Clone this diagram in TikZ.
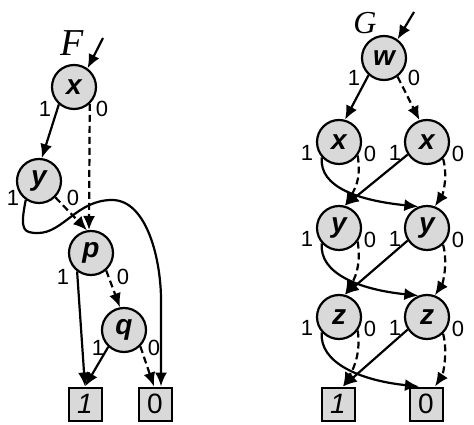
\documentclass[tikz,border=0pt]{standalone}
\usepackage{fontspec}
\setmainfont{Liberation Serif}
\setsansfont{Liberation Sans}
\usepackage{xcolor}
\usetikzlibrary{calc,arrows.meta}

\definecolor{bddgray}{gray}{0.85}

\tikzset{
  var/.style={circle, draw, line width=2.2pt, fill=bddgray, minimum size=44pt,
    inner sep=0pt, font=\sffamily\bfseries\itshape\fontsize{28}{28}\selectfont},
  leaf/.style={rectangle, draw, line width=2pt, fill=bddgray, minimum size=33pt,
    inner sep=0pt, font=\sffamily\fontsize{28}{28}\selectfont},
  hi/.style={line width=2.2pt, -{Latex[length=14pt,width=12pt]}},
  lo/.style={hi, dash pattern=on 7pt off 4pt},
  lbl/.style={font=\sffamily\fontsize{22}{22}\selectfont, inner sep=0pt},
  fname/.style={inner sep=0pt}
}

\begin{document}
\begin{tikzpicture}[x=1pt,y=1pt]

    \useasboundingbox (0,0) rectangle (474,-425);

    % --- Diagram F ---

    % Nodes
    \node[var] (xF) at (74,-87) {x};
    \node[var] (yF) at (39,-181) {y};
    \node[var] (pF) at (91,-253) {p};
    \node[var] (qF) at (124,-330) {q};
    \node[leaf] (oneF) at (85,-404) {\itshape 1};
    \node[leaf] (zeroF) at (155,-404) {0};

    % Name and entry
    \node[fname, font=\itshape\fontsize{38}{38}\selectfont] (labF) at (72,-43) {F};
    \coordinate (inF) at (103,-38);
    \draw[hi] (inF) -- (xF.54);

    % Waypoints of the long 1-edge of y
    \coordinate (loopF) at (38,-233);
    \coordinate (archF) at (112,-200);
    \coordinate (dropF) at (161,-300);

    % Edges
    \draw[hi] (xF.229) -- (yF.83);
    \draw[lo] (xF.-47) -- (pF.95);
    \draw[lo] (yF.-45) -- (pF.100);
    \draw[hi] (yF.235) .. controls +(-6,-30) and +(-15,0) .. (loopF)
      .. controls +(25,0) and +(-35,0) .. (archF)
      .. controls +(35,0) and +(0,40) .. (dropF)
      -- ([xshift=6pt]zeroF.north);
    \draw[hi] (pF.233) -- (oneF.north);
    \draw[lo] (pF.-49) -- (qF.100);
    \draw[hi] (qF.227) -- (oneF.north);
    \draw[lo] (qF.-45) -- ([xshift=-1pt]zeroF.north);

    % Edge labels
    \node[lbl] (xF1) at ($(xF)+(-29,-22)$) {1};
    \node[lbl] (xF0) at ($(xF)+(28,-22)$) {0};
    \node[lbl] (yF1) at ($(yF)+(-26,-17)$) {1};
    \node[lbl] (yF0) at ($(yF)+(34,-17)$) {0};
    \node[lbl] (pF1) at ($(pF)+(-28,-24)$) {1};
    \node[lbl] (pF0) at ($(pF)+(32,-24)$) {0};
    \node[lbl] (qF1) at ($(qF)+(-26,-18)$) {1};
    \node[lbl] (qF0) at ($(qF)+(30,-18)$) {0};

    % --- Diagram G ---

    % Nodes
    \node[var] (w) at (384,-58) {w};
    \node[var] (xL) at (339,-142) {x};
    \node[var] (xR) at (427,-142) {x};
    \node[var] (yL) at (339,-228) {y};
    \node[var] (yR) at (427,-228) {y};
    \node[var] (zL) at (339,-317) {z};
    \node[var] (zR) at (427,-317) {z};
    \node[leaf] (oneG) at (338,-404) {\itshape 1};
    \node[leaf] (zeroG) at (426,-404) {0};

    % Name and entry
    \node[fname, font=\itshape\fontsize{32}{32}\selectfont] (labG) at (365,-23) {G};
    \coordinate (inG) at (414,-12);
    \draw[hi] (inG) -- (w.54);

    % Edges from w
    \draw[hi] (w.228) -- (xL.75);
    \draw[lo] (w.-54) -- (xR.109);

    % Edges x -> y
    \draw[hi] (xL.222) .. controls +(-3,-30) and +(-59,6) .. (yR.112);
    \draw[lo] (xL.-36) .. controls +(3,-20) and +(12,20) .. (yL.75);
    \draw[hi] (xR.213) -- (yL.75);
    \draw[lo] (xR.-46) .. controls +(5,-18) and +(8,12) .. (yR.70);

    % Edges y -> z
    \draw[hi] (yL.222) .. controls +(-3,-30) and +(-59,6) .. (zR.112);
    \draw[lo] (yL.-36) .. controls +(3,-20) and +(12,20) .. (zL.75);
    \draw[hi] (yR.213) -- (zL.75);
    \draw[lo] (yR.-46) .. controls +(5,-18) and +(8,12) .. (zR.70);

    % Edges z -> leaves
    \draw[hi] (zL.222) .. controls +(-3,-30) and +(-59,6) .. ([xshift=-7pt]zeroG.north);
    \draw[lo] (zL.-36) .. controls +(3,-20) and +(12,20) .. ([xshift=5pt]oneG.north);
    \draw[hi] (zR.213) -- ([xshift=5pt]oneG.north);
    \draw[lo] (zR.-46) .. controls +(5,-18) and +(8,12) .. ([xshift=9pt]zeroG.north);

    % Edge labels
    \node[lbl] (w1) at ($(w)+(-30,-20)$) {1};
    \node[lbl] (w0) at ($(w)+(30,-20)$) {0};
    \foreach \n in {xL,xR,yL,yR,zL,zR} {
      \node[lbl] (\n1) at ($(\n)+(-32,-11)$) {1};
      \node[lbl] (\n0) at ($(\n)+(31,-12)$) {0};
    }

\end{tikzpicture}
\end{document}
